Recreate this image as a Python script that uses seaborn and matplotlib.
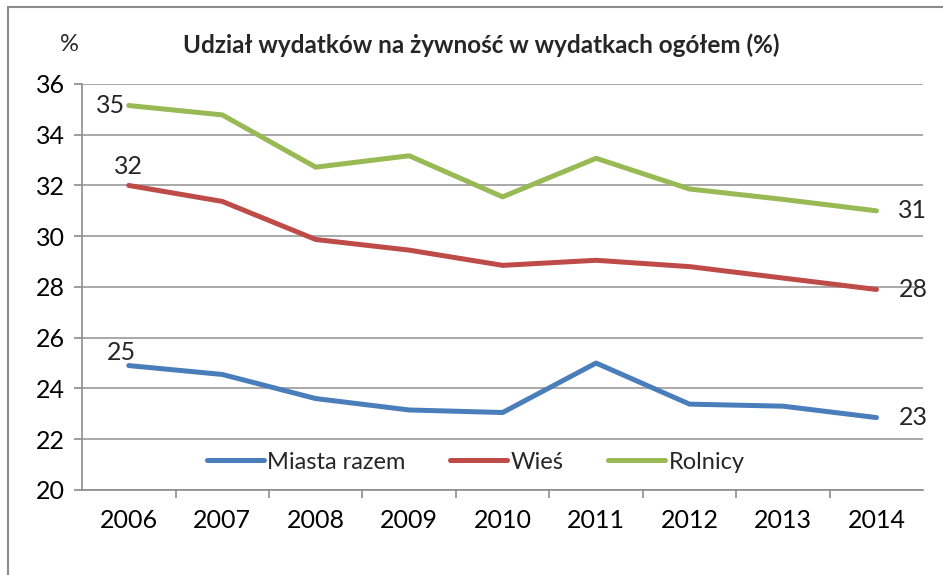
import numpy as np
import pandas as pd
import matplotlib
matplotlib.use("Agg")
import matplotlib.pyplot as plt
import seaborn as sns

# ============================================================
# DATA
# ============================================================
years = ["2006", "2007", "2008", "2009", "2010", "2011", "2012", "2013", "2014"]
miasta = [24.9, 24.55, 23.6, 23.15, 23.05, 25.0, 23.38, 23.3, 22.85]
wies = [32.0, 31.37, 29.87, 29.45, 28.85, 29.05, 28.8, 28.35, 27.9]
rolnicy = [35.15, 34.78, 32.72, 33.17, 31.55, 33.07, 31.86, 31.45, 31.0]
series_names = ["Miasta razem", "Wieś", "Rolnicy"]
colors = ["#4A7EBB", "#BE4B48", "#98B954"]
title = "Udział wydatków na żywność w wydatkach ogółem (%)"

df = pd.DataFrame({
    "pos": list(range(len(years))) * 3,
    "value": miasta + wies + rolnicy,
    "series": [series_names[0]] * 9 + [series_names[1]] * 9 + [series_names[2]] * 9,
})

# ============================================================
# PLOT
# ============================================================
sns.set_theme(style="white")
plt.rcParams["font.family"] = ["Lato", "DejaVu Sans"]

fig = plt.figure(figsize=(9.43, 5.75), dpi=100)
ax = fig.add_axes([0.087, 0.148, 0.892, 0.706])

sns.lineplot(data=df, x="pos", y="value", hue="series", palette=colors,
             linewidth=3.6, ax=ax, legend=True)

ax.set_xlim(-0.5, len(years) - 0.5)
ax.set_ylim(20, 36)
ax.set_yticks(np.arange(20, 37, 2))
ax.tick_params(axis="y", labelsize=18, length=6, width=1.2, color="#8c8c8c",
               left=True, direction="out", pad=6, labelcolor="black")

ax.set_xticks(range(len(years)))
ax.set_xticklabels(years, fontsize=18, color="black")
ax.tick_params(axis="x", which="major", length=0, pad=14)
ax.set_xticks(np.arange(0.5, len(years) - 0.5, 1), minor=True)
ax.tick_params(axis="x", which="minor", length=6, width=1.2, color="#8c8c8c",
               bottom=True, direction="out")

ax.yaxis.grid(True, color="#9a9a9a", linewidth=1.2)
ax.set_axisbelow(True)
for s in ["top", "right"]:
    ax.spines[s].set_visible(False)
for s in ["left", "bottom"]:
    ax.spines[s].set_color("#8c8c8c")
    ax.spines[s].set_linewidth(1.2)
ax.set_xlabel("")
ax.set_ylabel("")

# data labels at the ends
last = [miasta[-1], wies[-1], rolnicy[-1]]
ax.text(-0.2, rolnicy[0], f"{rolnicy[0]:.0f}", fontsize=18, ha="center", va="center")
ax.text(0.0, wies[0] + 0.75, f"{wies[0]:.0f}", fontsize=18, ha="center", va="center")
ax.text(-0.08, miasta[0] + 0.5, f"{miasta[0]:.0f}", fontsize=18, ha="center", va="center")
for v in last:
    ax.text(8.39, v, f"{v:.0f}", fontsize=18, ha="center", va="center")

ax.legend(loc="lower center", bbox_to_anchor=(0.468, -0.01), ncol=3, frameon=False,
          fontsize=17, handlelength=2.4, columnspacing=1.9, handletextpad=0.15)

fig.text(0.51, 0.922, title, fontsize=17.5, fontweight="bold", ha="center", va="center")
fig.text(0.074, 0.922, "%", fontsize=17, ha="center", va="center")

# outer frame
fig.add_artist(plt.Rectangle((0.008, -0.02), 1.0, 1.007, transform=fig.transFigure,
                             fill=False, edgecolor="#8c8c8c", linewidth=1.5))

plt.savefig("out.png", dpi=100)
